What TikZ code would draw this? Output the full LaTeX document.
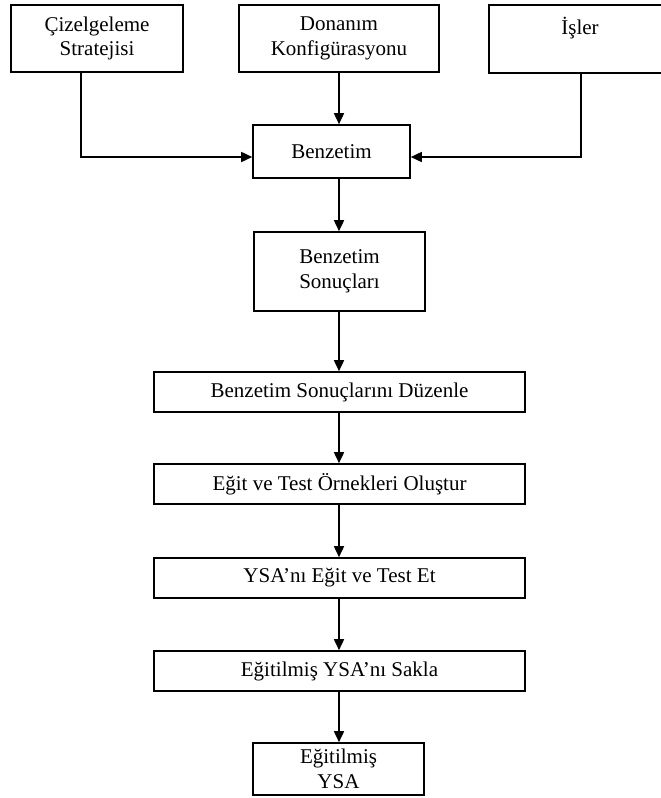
\documentclass[tikz,border=0pt]{standalone}
\usepackage{fontspec}
\setmainfont{Liberation Serif}
\usetikzlibrary{arrows.meta,calc}
\begin{document}
\begin{tikzpicture}[x=1pt,y=-1pt,
  box/.style={draw, line width=1.6pt, align=center, inner sep=0pt, font=\fontsize{21}{24.5}\selectfont},
  txt/.style={inner sep=0pt, font=\fontsize{21}{24.5}\selectfont},
  arr/.style={line width=1.6pt, -{Triangle[length=11pt,width=10pt]}}]
\useasboundingbox (0,0) rectangle (661,798);
\clip (0,0) rectangle (661,798);
\node[box, minimum width=172pt, minimum height=67pt] (cs) at (97,38.5) {Çizelgeleme\\Stratejisi};
\node[box, minimum width=200pt, minimum height=67pt] (dk) at (339,38.5) {Donanım\\Konfigürasyonu};
\node[box, minimum width=182pt, minimum height=68pt] (isl) at (580,39) {};
\node[txt, anchor=base] (islt) at ($(isl.north)+(0,30)$) {İşler};
\node[box, minimum width=157pt, minimum height=53pt] (ben) at (331.5,151.5) {Benzetim};
\node[box, minimum width=171pt, minimum height=79pt] (bs) at (339.5,271.5) {Benzetim\\Sonuçları};
\node[box, minimum width=371pt, minimum height=40pt] (dz) at (339.5,392) {Benzetim Sonuçlarını Düzenle};
\node[box, minimum width=371pt, minimum height=40pt] (eg) at (339.5,484) {Eğit ve Test Örnekleri Oluştur};
\node[box, minimum width=371pt, minimum height=40pt] (ysa) at (339.5,578) {YSA’nı Eğit ve Test Et};
\node[box, minimum width=371pt, minimum height=40pt] (sk) at (339.5,671) {Eğitilmiş YSA’nı Sakla};
\node[box, minimum width=171pt, minimum height=52pt] (ey) at (338.5,769) {Eğitilmiş\\YSA};
\draw[arr] (dk) -- (dk.south |- ben.north);
\draw[arr] ([xshift=-16pt]cs.south) |- ([yshift=-5.5pt]ben.west);
\draw[arr] ([xshift=1pt]isl.south) |- ([yshift=-5.5pt]ben.east);
\draw[arr] (ben.south -| dk.south) -- (bs.north -| dk.south);
\draw[arr] (bs.south -| dk.south) -- (dz.north -| dk.south);
\draw[arr] (dz.south -| dk.south) -- (eg.north -| dk.south);
\draw[arr] (eg.south -| dk.south) -- (ysa.north -| dk.south);
\draw[arr] (ysa.south -| dk.south) -- (sk.north -| dk.south);
\draw[arr] (sk.south -| dk.south) -- (ey.north -| dk.south);
\end{tikzpicture}
\end{document}
